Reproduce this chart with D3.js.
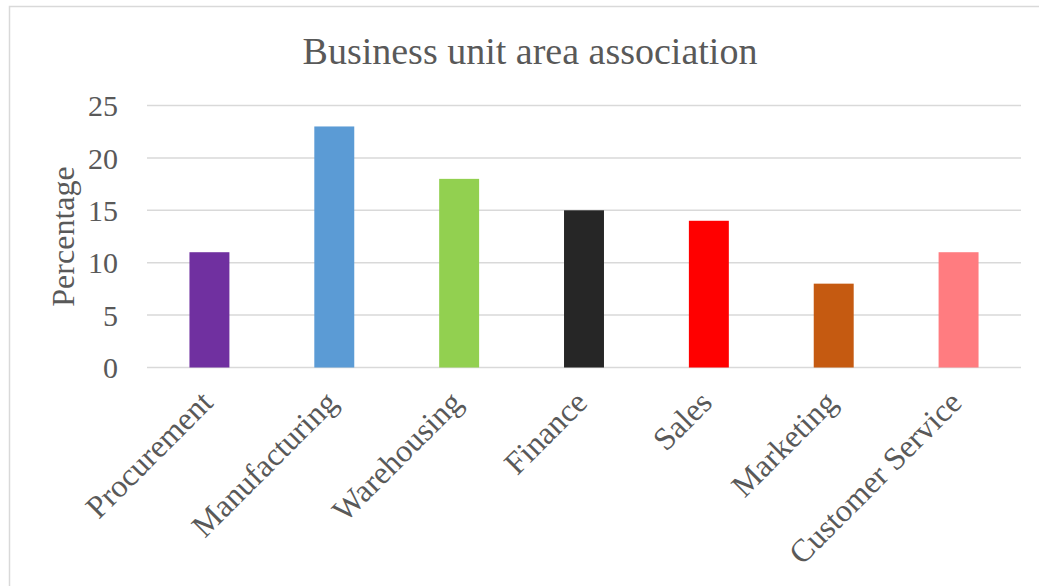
<!DOCTYPE html>
<html>
<head>
<meta charset="utf-8">
<script src="https://cdn.jsdelivr.net/npm/d3@7"></script>
<style>
  html, body { margin: 0; padding: 0; background: #fff; }
  svg { display: block; }
  text { font-family: "Liberation Serif", "Times New Roman", serif; fill: #595959; }
</style>
</head>
<body>
<svg id="chart" width="1039" height="586"></svg>
<script>
// Share of respondents by business unit
const categories = ["Procurement", "Manufacturing", "Warehousing", "Finance", "Sales", "Marketing", "Customer Service"];
const values = [11, 23, 18, 15, 14, 8, 11];
const barColors = ["#7030A0", "#5B9BD5", "#92D050", "#262626", "#FF0000", "#C55A11", "#FF7C80"];
const yTicks = [0, 5, 10, 15, 20, 25];
const titleText = "Business unit area association";
const yAxisTitle = "Percentage";

const W = 1039, H = 586;
const margin = { left: 147, right: 18, top: 105.5, bottom: 218.5 };
const svg = d3.select("#chart");

// chart frame
svg.append("rect")
  .attr("x", 9.5).attr("y", 6.5)
  .attr("width", W + 20).attr("height", H + 20)
  .attr("fill", "#fff").attr("stroke", "#d9d9d9").attr("stroke-width", 1.5);

const x = d3.scaleBand()
  .domain(categories)
  .range([margin.left, W - margin.right])
  .paddingInner(0.68).paddingOuter(0.34);

const y = d3.scaleLinear()
  .domain([0, 25])
  .range([H - margin.bottom, margin.top]);

// horizontal gridlines
svg.append("g")
  .selectAll("line")
  .data(yTicks)
  .join("line")
  .attr("x1", margin.left).attr("x2", W - margin.right)
  .attr("y1", d => y(d)).attr("y2", d => y(d))
  .attr("stroke", "#d9d9d9").attr("stroke-width", 1.5);

// y axis tick labels
const yAxis = d3.axisLeft(y).tickValues(yTicks).tickSize(0).tickPadding(29);
const gy = svg.append("g").attr("transform", `translate(${margin.left},0)`).call(yAxis);
gy.select(".domain").remove();
gy.selectAll("text")
  .style("font-family", '"Liberation Serif", "Times New Roman", serif')
  .style("font-size", "30px").attr("fill", "#595959").attr("dy", "0.34em");

// bars
svg.append("g")
  .selectAll("rect")
  .data(values)
  .join("rect")
  .attr("x", (d, i) => x(categories[i]))
  .attr("width", x.bandwidth())
  .attr("y", d => y(d))
  .attr("height", d => y(0) - y(d))
  .attr("fill", (d, i) => barColors[i]);

// category labels, rotated
const xAxis = d3.axisBottom(x).tickSize(0).tickPadding(0);
const gx = svg.append("g").attr("transform", `translate(0,${y(0)})`).call(xAxis);
gx.select(".domain").remove();
gx.selectAll("text")
  .style("font-family", '"Liberation Serif", "Times New Roman", serif')
  .style("font-size", "32px").attr("fill", "#595959")
  .attr("text-anchor", "end")
  .attr("dy", null)
  .attr("y", 0)
  .attr("transform", "translate(5,37) rotate(-45)");

// title
svg.append("text")
  .attr("x", 530).attr("y", 64)
  .attr("text-anchor", "middle")
  .style("font-size", "38px")
  .text(titleText);

// y axis title
svg.append("text")
  .attr("transform", `translate(74,${(y(0) + y(25)) / 2}) rotate(-90)`)
  .attr("text-anchor", "middle")
  .style("font-size", "32px")
  .text(yAxisTitle);
</script>
</body>
</html>
